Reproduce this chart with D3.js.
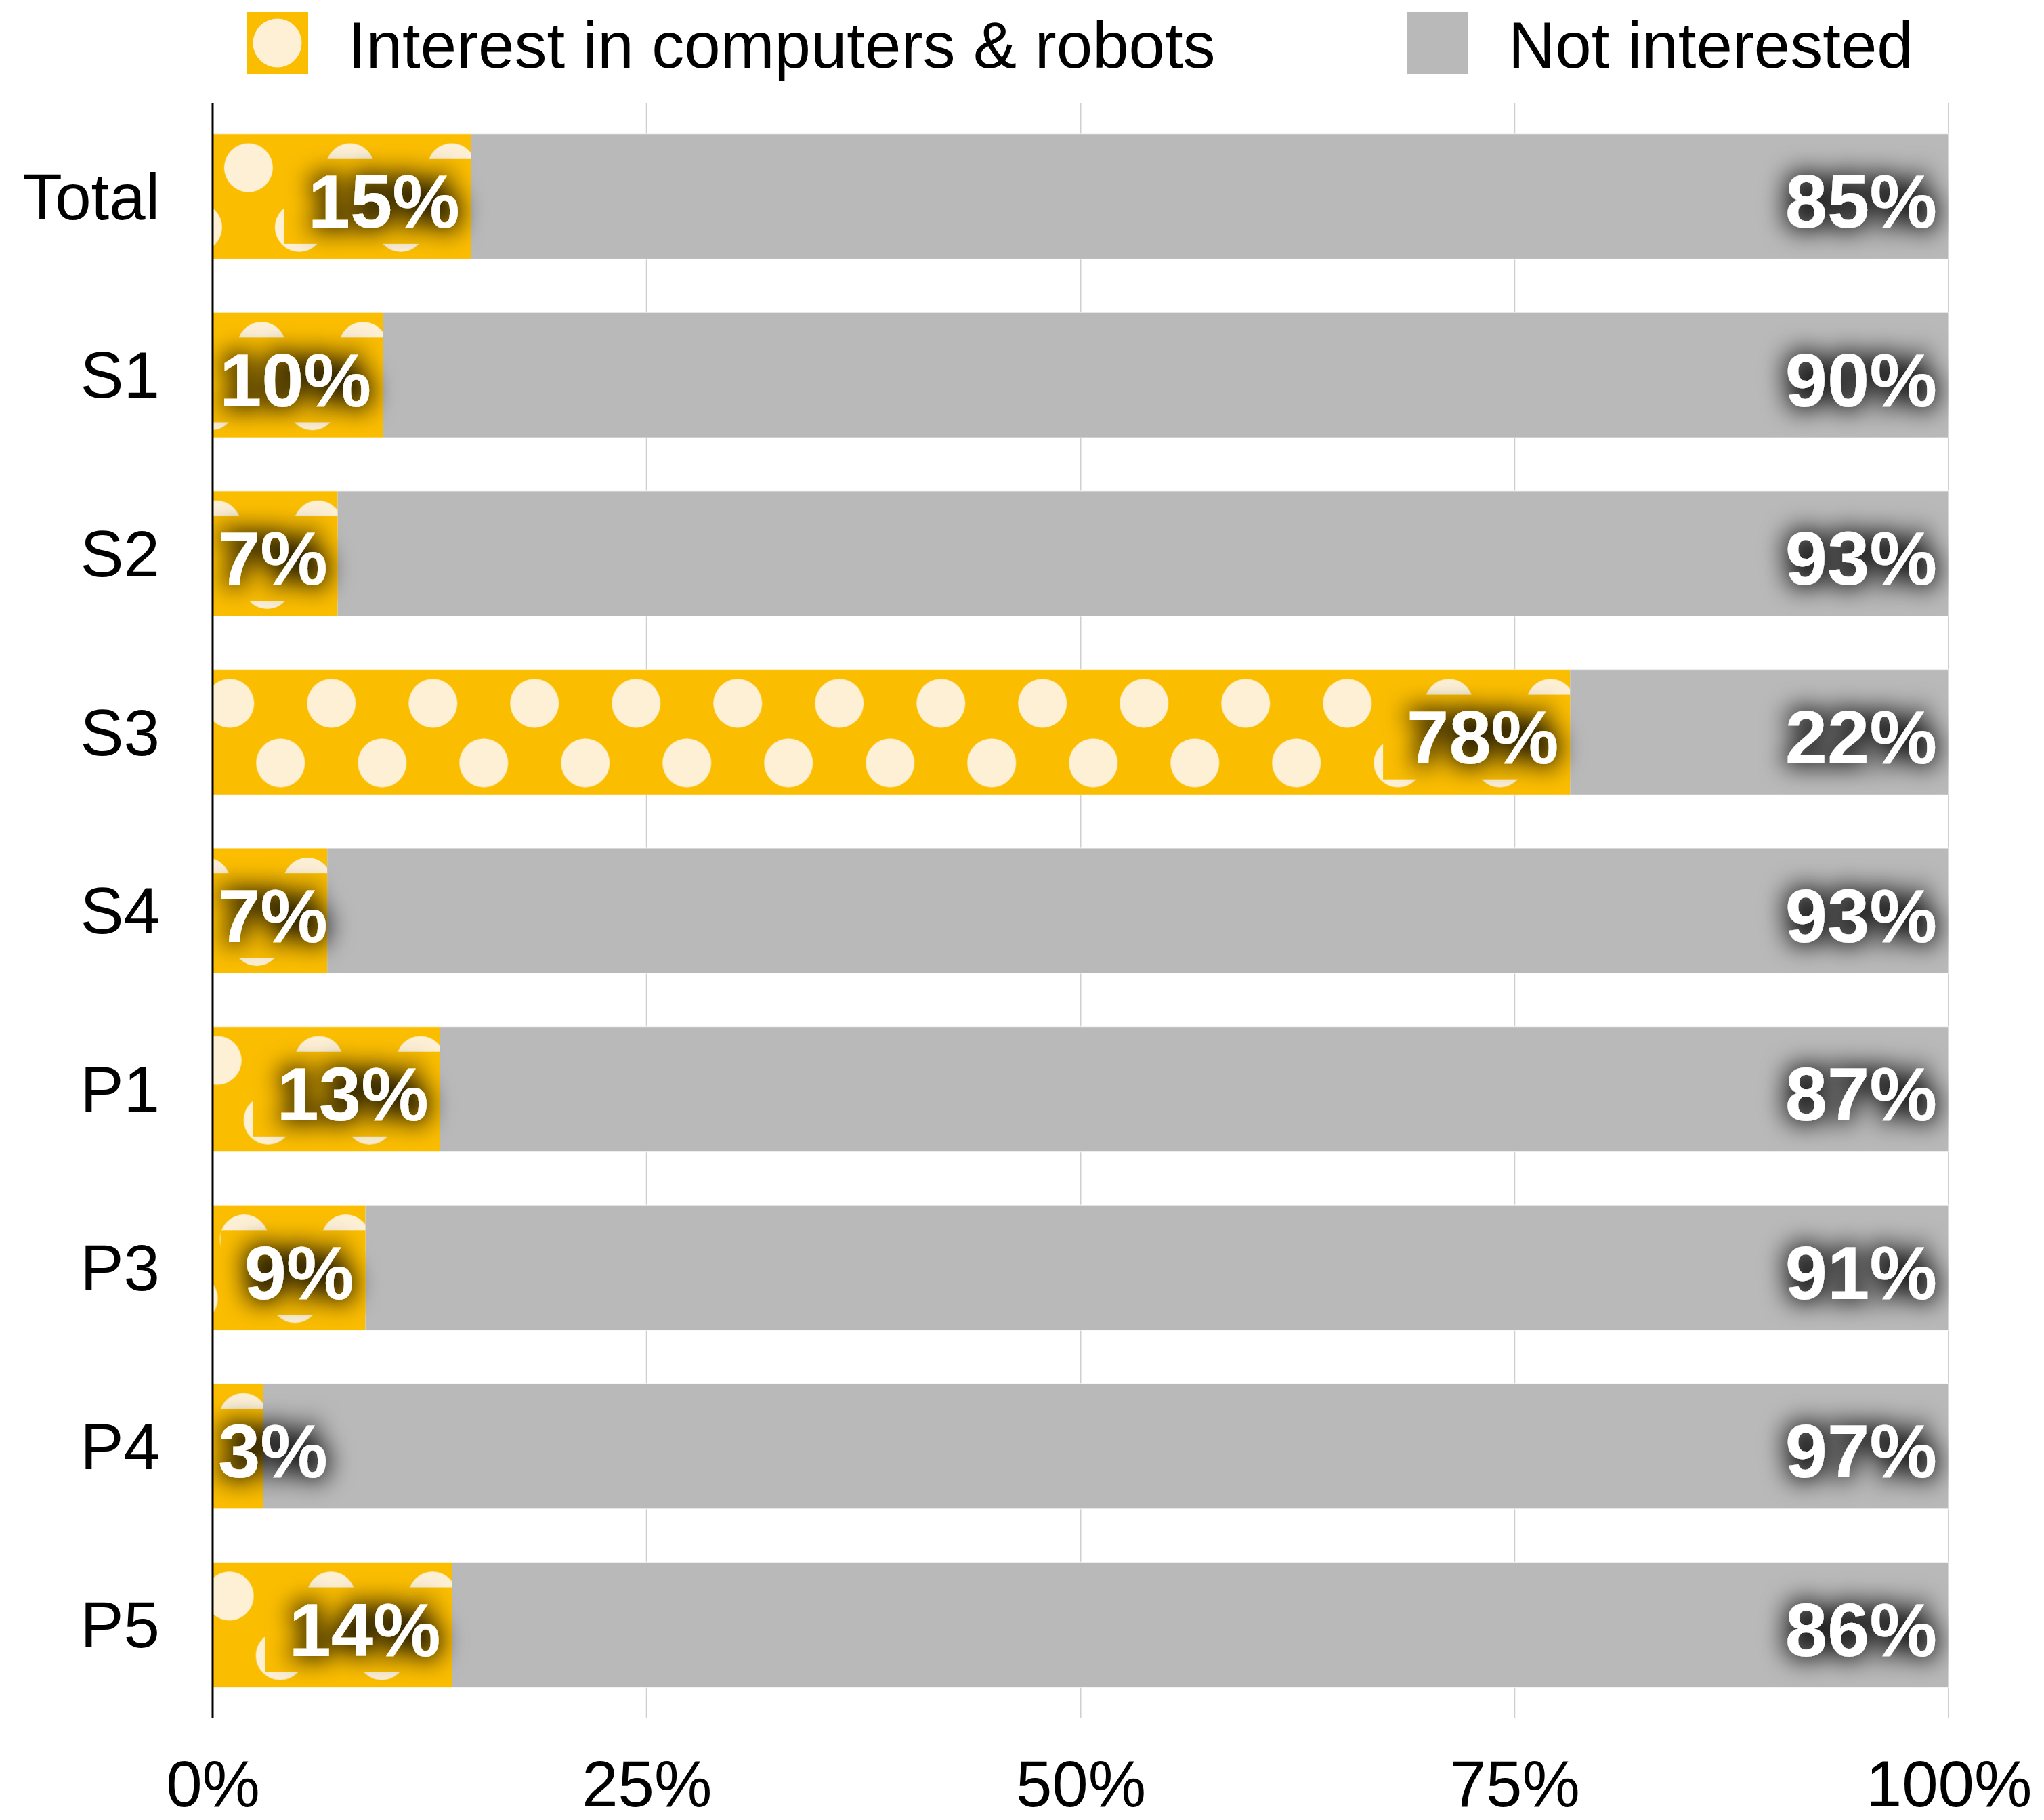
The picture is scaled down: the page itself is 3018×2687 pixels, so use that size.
<!DOCTYPE html>
<html>
<head>
<meta charset="utf-8">
<script src="https://cdn.jsdelivr.net/npm/d3@7"></script>
<style>
  html, body { margin: 0; padding: 0; background: #fff; }
  svg { display: block; }
  text { font-family: "Liberation Sans", Arial, Helvetica, sans-serif; }
</style>
</head>
<body>
<script>
// ---------- data ----------
const categories = ["Total", "S1", "S2", "S3", "S4", "P1", "P3", "P4", "P5"];
const interested = [14.9, 9.8, 7.2, 78.2, 6.6, 13.1, 8.8, 2.9, 13.8];
const notInterested = [85.1, 90.2, 92.8, 21.8, 93.4, 86.9, 91.2, 97.1, 86.2];
const seriesNames = ["Interest in computers & robots", "Not interested"];
const xTicks = [0, 25, 50, 75, 100];

// ---------- style ----------
const W = 3018, H = 2687;
const YELLOW = "#FBBD00", GRAY = "#B9B9B9", CREAM = "#FDF0D5";
const LABEL_FS = 112, AXIS_FS = 96;

const svg = d3.select("body").append("svg").attr("width", W).attr("height", H);
const defs = svg.append("defs");

const x = d3.scaleLinear().domain([0, 100]).range([314, 2877]);
const y = d3.scaleBand().domain(categories).range([152, 2537])
  .paddingInner(0.298).paddingOuter(0.173);
const bw = y.bandwidth();

// glow filter for value labels
const f = defs.append("filter").attr("id", "glow")
  .attr("x", "-60%").attr("y", "-60%").attr("width", "220%").attr("height", "220%");
f.append("feMorphology").attr("in", "SourceAlpha").attr("operator", "dilate").attr("radius", 4).attr("result", "d");
f.append("feGaussianBlur").attr("in", "d").attr("stdDeviation", 18).attr("result", "b");
f.append("feFlood").attr("flood-color", "#000").attr("flood-opacity", 0.9).attr("result", "c");
f.append("feComposite").attr("in", "c").attr("in2", "b").attr("operator", "in").attr("result", "s");
const fm = f.append("feMerge");
fm.append("feMergeNode").attr("in", "s");
fm.append("feMergeNode").attr("in", "SourceGraphic");

// gridlines
svg.append("g").selectAll("line").data(xTicks.filter(t => t > 0)).join("line")
  .attr("x1", d => x(d)).attr("x2", d => x(d))
  .attr("y1", y.range()[0]).attr("y2", y.range()[1])
  .attr("stroke", "#cfcfcf").attr("stroke-width", 2);

// x axis labels
const xAxis = svg.append("g").attr("transform", `translate(0,${y.range()[1]})`)
  .call(d3.axisBottom(x).tickValues(xTicks).tickFormat(d => d + "%").tickSize(0).tickPadding(62));
xAxis.select(".domain").remove();
xAxis.selectAll("text").attr("font-size", AXIS_FS).attr("fill", "#000")
  .attr("font-family", "Liberation Sans, Arial, sans-serif");

// y axis labels
const yAxis = svg.append("g").attr("transform", `translate(${x(0)},0)`)
  .call(d3.axisLeft(y).tickSize(0).tickPadding(78));
yAxis.select(".domain").remove();
yAxis.selectAll("text").attr("font-size", AXIS_FS).attr("fill", "#000").attr("dy", "0.35em")
  .attr("font-family", "Liberation Sans, Arial, sans-serif");

// rows
const rows = categories.map((c, i) => ({ c, i, a: interested[i], b: notInterested[i] }));

rows.forEach(r => {
  const top = y(r.c);
  const xEnd = x(r.a);
  // per-bar dot pattern anchored at bar end
  const p = defs.append("pattern").attr("id", "pat" + r.i)
    .attr("patternUnits", "userSpaceOnUse")
    .attr("x", xEnd - 29).attr("y", top).attr("width", 150).attr("height", bw);
  p.append("rect").attr("width", 150).attr("height", bw).attr("fill", YELLOW);
  [[0, 50], [150, 50], [75, 138]].forEach(([cx, cy]) =>
    p.append("circle").attr("cx", cx).attr("cy", cy).attr("r", 36).attr("fill", CREAM));
  defs.append("clipPath").attr("id", "clip" + r.i).append("rect")
    .attr("x", x(0)).attr("y", top).attr("width", x(100) - x(0)).attr("height", bw);
});

const bars = svg.append("g");
bars.selectAll("rect.a").data(rows).join("rect").attr("class", "a")
  .attr("x", x(0)).attr("y", d => y(d.c))
  .attr("width", d => x(d.a) - x(0)).attr("height", bw)
  .attr("fill", d => `url(#pat${d.i})`);
bars.selectAll("rect.b").data(rows).join("rect").attr("class", "b")
  .attr("x", d => x(d.a)).attr("y", d => y(d.c))
  .attr("width", d => x(d.a + d.b) - x(d.a)).attr("height", bw)
  .attr("fill", GRAY);
bars.selectAll("rect.edge").data(rows).join("rect").attr("class", "edge")
  .attr("x", x(0)).attr("y", d => y(d.c))
  .attr("width", d => x(100) - x(0)).attr("height", bw)
  .attr("fill", "none").attr("stroke", "#fff").attr("stroke-opacity", 0.6).attr("stroke-width", 1.5);

// value labels
const labels = svg.append("g");
rows.forEach(r => {
  const g = labels.append("g").attr("clip-path", `url(#clip${r.i})`);
  const base = y(r.c) + bw / 2 + 46;
  // yellow segment label
  const t1 = g.append("text").text(Math.round(r.a) + "%")
    .attr("font-size", LABEL_FS).attr("font-weight", "bold").attr("fill", "#fff")
    .attr("text-anchor", "end").attr("y", base);
  const w1 = t1.node().getComputedTextLength();
  const xr1 = Math.max(x(r.a) - 17, x(0) + 8 + w1);
  t1.attr("x", xr1);
  const bx0 = Math.max(x(0), xr1 - w1 - 35);
  g.insert("rect", "text")
    .attr("x", bx0).attr("y", base - 0.905 * LABEL_FS)
    .attr("width", Math.max(0, x(r.a) - bx0)).attr("height", (0.905 + 0.212) * LABEL_FS)
    .attr("fill", YELLOW);
  t1.attr("filter", "url(#glow)");
  // gray segment label
  g.append("text").text(Math.round(r.b) + "%")
    .attr("font-size", LABEL_FS).attr("font-weight", "bold").attr("fill", "#fff")
    .attr("text-anchor", "end").attr("x", x(r.a + r.b) - 17).attr("y", base)
    .attr("filter", "url(#glow)");
});

// y axis line
svg.append("line").attr("x1", x(0)).attr("x2", x(0))
  .attr("y1", y.range()[0]).attr("y2", y.range()[1])
  .attr("stroke", "#000").attr("stroke-width", 3);

// legend
const legend = svg.append("g");
const legItems = [
  { name: seriesNames[0], color: YELLOW, sx: 364, tx: 514, dot: true },
  { name: seriesNames[1], color: GRAY, sx: 2077, tx: 2227, dot: false }
];
legItems.forEach(it => {
  legend.append("rect").attr("x", it.sx).attr("y", 18).attr("width", 91).attr("height", 91).attr("fill", it.color);
  if (it.dot) legend.append("circle").attr("cx", it.sx + 45.5).attr("cy", 63.5).attr("r", 36).attr("fill", CREAM);
  legend.append("text").attr("x", it.tx).attr("y", 100).attr("font-size", AXIS_FS).attr("fill", "#000").text(it.name);
});
</script>
</body>
</html>
